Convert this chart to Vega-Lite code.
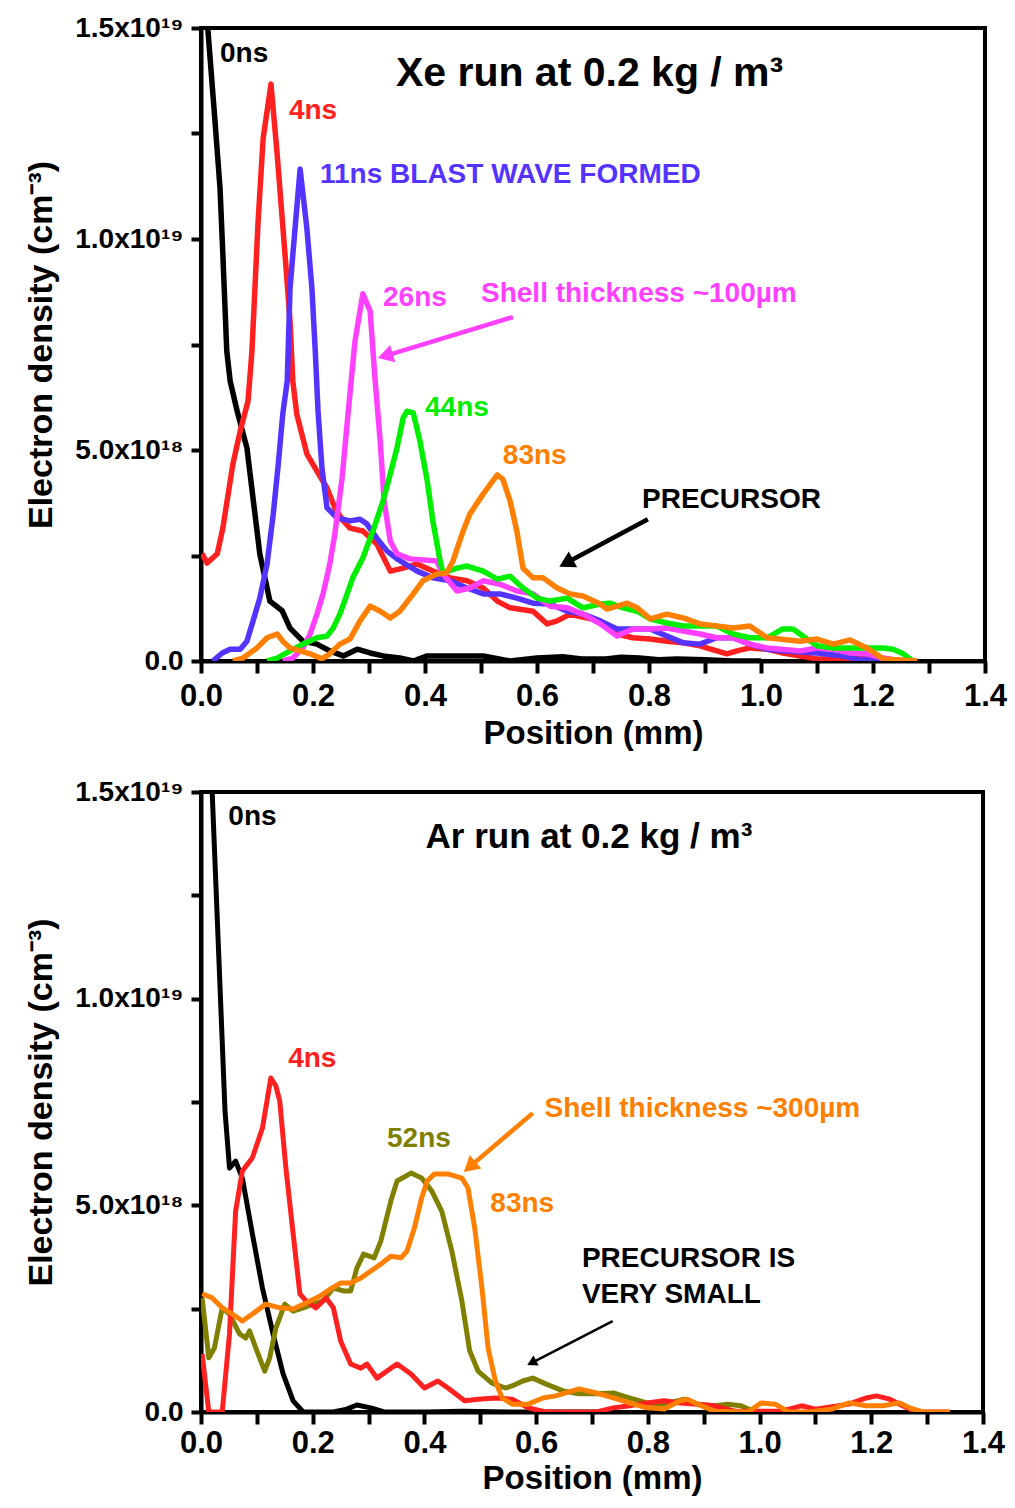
{
  "$schema": "https://vega.github.io/schema/vega-lite/v6.json",
  "background": "white",
  "padding": {"left": 22, "top": 12, "right": 4, "bottom": 0},
  "spacing": 24,
  "config": {
    "view": {"stroke": "black", "strokeWidth": 4},
    "font": "Liberation Sans",
    "axis": {
      "grid": false, "domainColor": "black", "domainWidth": 4, "tickColor": "black", "tickWidth": 4,
      "labelFont": "Liberation Sans", "labelFontWeight": "bold", "labelColor": "black", "labelOverlap": false, "labelFlush": false,
      "titleFont": "Liberation Sans", "titleFontWeight": "bold", "titleColor": "black"
    },
    "text": {"font": "Liberation Sans", "fontWeight": "bold", "align": "left", "baseline": "middle"}
  },
  "resolve": {"scale": {"x": "independent", "y": "independent", "color": "independent"}},
  "datasets": {
    "xe": [
      {"series":"0ns","x":0,"y":17.1},{"series":"0ns","x":0.0125,"y":14.93},{"series":"0ns","x":0.025,"y":12.79},{"series":"0ns","x":0.034,"y":11.2},{"series":"0ns","x":0.039,"y":9.64},{"series":"0ns","x":0.046,"y":7.35},{"series":"0ns","x":0.052,"y":6.64},{"series":"0ns","x":0.065,"y":5.9},{"series":"0ns","x":0.082,"y":5.05},{"series":"0ns","x":0.105,"y":2.54},{"series":"0ns","x":0.123,"y":1.42},{"series":"0ns","x":0.145,"y":1.19},{"series":"0ns","x":0.159,"y":0.78},{"series":"0ns","x":0.182,"y":0.47},{"series":"0ns","x":0.207,"y":0.40},{"series":"0ns","x":0.23,"y":0.24},{"series":"0ns","x":0.254,"y":0.12},{"series":"0ns","x":0.279,"y":0.28},{"series":"0ns","x":0.302,"y":0.19},{"series":"0ns","x":0.325,"y":0.12},{"series":"0ns","x":0.355,"y":0.07},{"series":"0ns","x":0.379,"y":0.0},{"series":"0ns","x":0.404,"y":0.12},{"series":"0ns","x":0.445,"y":0.12},{"series":"0ns","x":0.504,"y":0.12},{"series":"0ns","x":0.552,"y":0.0},{"series":"0ns","x":0.6,"y":0.07},{"series":"0ns","x":0.646,"y":0.10},{"series":"0ns","x":0.68,"y":0.05},{"series":"0ns","x":0.723,"y":0.05},{"series":"0ns","x":0.75,"y":0.09},{"series":"0ns","x":0.783,"y":0.07},{"series":"0ns","x":0.817,"y":0.03},{"series":"0ns","x":0.85,"y":0.05},{"series":"0ns","x":0.9,"y":0.03},{"series":"0ns","x":0.95,"y":0.0},{"series":"0ns","x":1.0,"y":0.0},
      {"series":"4ns","x":0.002,"y":2.54},{"series":"4ns","x":0.011,"y":2.32},{"series":"4ns","x":0.029,"y":2.54},{"series":"4ns","x":0.039,"y":3.15},{"series":"4ns","x":0.057,"y":4.67},{"series":"4ns","x":0.07,"y":5.45},{"series":"4ns","x":0.084,"y":6.16},{"series":"4ns","x":0.091,"y":7.35},{"series":"4ns","x":0.102,"y":10.43},{"series":"4ns","x":0.111,"y":12.39},{"series":"4ns","x":0.125,"y":13.67},{"series":"4ns","x":0.136,"y":12.01},{"series":"4ns","x":0.15,"y":9.64},{"series":"4ns","x":0.159,"y":8.06},{"series":"4ns","x":0.164,"y":6.63},{"series":"4ns","x":0.171,"y":5.85},{"series":"4ns","x":0.189,"y":4.91},{"series":"4ns","x":0.207,"y":4.5},{"series":"4ns","x":0.225,"y":4.1},{"series":"4ns","x":0.239,"y":3.63},{"series":"4ns","x":0.254,"y":3.32},{"series":"4ns","x":0.266,"y":3.15},{"series":"4ns","x":0.289,"y":3.08},{"series":"4ns","x":0.314,"y":2.77},{"series":"4ns","x":0.338,"y":2.13},{"series":"4ns","x":0.361,"y":2.2},{"series":"4ns","x":0.386,"y":2.3},{"series":"4ns","x":0.414,"y":2.13},{"series":"4ns","x":0.445,"y":1.97},{"series":"4ns","x":0.475,"y":1.9},{"series":"4ns","x":0.504,"y":1.73},{"series":"4ns","x":0.529,"y":1.42},{"series":"4ns","x":0.552,"y":1.26},{"series":"4ns","x":0.593,"y":1.18},{"series":"4ns","x":0.618,"y":0.88},{"series":"4ns","x":0.636,"y":0.95},{"series":"4ns","x":0.659,"y":1.11},{"series":"4ns","x":0.671,"y":1.07},{"series":"4ns","x":0.713,"y":0.95},{"series":"4ns","x":0.743,"y":0.64},{"series":"4ns","x":0.771,"y":0.55},{"series":"4ns","x":0.802,"y":0.52},{"series":"4ns","x":0.832,"y":0.47},{"series":"4ns","x":0.861,"y":0.43},{"series":"4ns","x":0.891,"y":0.36},{"series":"4ns","x":0.921,"y":0.24},{"series":"4ns","x":0.939,"y":0.17},{"series":"4ns","x":0.957,"y":0.24},{"series":"4ns","x":0.98,"y":0.31},{"series":"4ns","x":1.011,"y":0.28},{"series":"4ns","x":1.039,"y":0.19},{"series":"4ns","x":1.07,"y":0.12},{"series":"4ns","x":1.1,"y":0.05},{"series":"4ns","x":1.159,"y":0.05},{"series":"4ns","x":1.189,"y":0.12},{"series":"4ns","x":1.218,"y":0.05},{"series":"4ns","x":1.248,"y":0.02},
      {"series":"11ns","x":0.021,"y":0},{"series":"11ns","x":0.038,"y":0.19},{"series":"11ns","x":0.052,"y":0.28},{"series":"11ns","x":0.07,"y":0.28},{"series":"11ns","x":0.082,"y":0.47},{"series":"11ns","x":0.093,"y":0.95},{"series":"11ns","x":0.105,"y":1.49},{"series":"11ns","x":0.118,"y":2.3},{"series":"11ns","x":0.129,"y":3.48},{"series":"11ns","x":0.138,"y":4.67},{"series":"11ns","x":0.146,"y":5.85},{"series":"11ns","x":0.154,"y":6.64},{"series":"11ns","x":0.159,"y":8.84},{"series":"11ns","x":0.168,"y":10.26},{"series":"11ns","x":0.177,"y":11.66},{"series":"11ns","x":0.189,"y":10.26},{"series":"11ns","x":0.198,"y":8.84},{"series":"11ns","x":0.204,"y":7.35},{"series":"11ns","x":0.209,"y":5.92},{"series":"11ns","x":0.216,"y":4.57},{"series":"11ns","x":0.225,"y":3.63},{"series":"11ns","x":0.243,"y":3.39},{"series":"11ns","x":0.266,"y":3.32},{"series":"11ns","x":0.284,"y":3.36},{"series":"11ns","x":0.296,"y":3.25},{"series":"11ns","x":0.314,"y":2.91},{"series":"11ns","x":0.332,"y":2.61},{"series":"11ns","x":0.35,"y":2.42},{"series":"11ns","x":0.386,"y":2.13},{"series":"11ns","x":0.414,"y":1.97},{"series":"11ns","x":0.445,"y":1.9},{"series":"11ns","x":0.475,"y":1.73},{"series":"11ns","x":0.504,"y":1.59},{"series":"11ns","x":0.534,"y":1.59},{"series":"11ns","x":0.564,"y":1.49},{"series":"11ns","x":0.593,"y":1.37},{"series":"11ns","x":0.623,"y":1.35},{"series":"11ns","x":0.654,"y":1.18},{"series":"11ns","x":0.682,"y":1.11},{"series":"11ns","x":0.713,"y":0.95},{"series":"11ns","x":0.743,"y":0.76},{"series":"11ns","x":0.802,"y":0.76},{"series":"11ns","x":0.832,"y":0.59},{"series":"11ns","x":0.861,"y":0.43},{"series":"11ns","x":0.891,"y":0.4},{"series":"11ns","x":0.921,"y":0.55},{"series":"11ns","x":0.95,"y":0.55},{"series":"11ns","x":0.98,"y":0.4},{"series":"11ns","x":1.011,"y":0.28},{"series":"11ns","x":1.039,"y":0.24},{"series":"11ns","x":1.1,"y":0.19},{"series":"11ns","x":1.146,"y":0.12},{"series":"11ns","x":1.171,"y":0.05},{"series":"11ns","x":1.248,"y":0},
      {"series":"26ns","x":0.146,"y":0},{"series":"26ns","x":0.164,"y":0.07},{"series":"26ns","x":0.182,"y":0.31},{"series":"26ns","x":0.195,"y":0.64},{"series":"26ns","x":0.207,"y":1.11},{"series":"26ns","x":0.218,"y":1.59},{"series":"26ns","x":0.23,"y":2.3},{"series":"26ns","x":0.239,"y":3.01},{"series":"26ns","x":0.252,"y":4.34},{"series":"26ns","x":0.263,"y":5.92},{"series":"26ns","x":0.275,"y":7.58},{"series":"26ns","x":0.289,"y":8.7},{"series":"26ns","x":0.302,"y":8.29},{"series":"26ns","x":0.311,"y":6.64},{"series":"26ns","x":0.32,"y":5.21},{"series":"26ns","x":0.327,"y":3.79},{"series":"26ns","x":0.338,"y":2.84},{"series":"26ns","x":0.35,"y":2.54},{"series":"26ns","x":0.373,"y":2.42},{"series":"26ns","x":0.421,"y":2.37},{"series":"26ns","x":0.432,"y":2.06},{"series":"26ns","x":0.457,"y":1.66},{"series":"26ns","x":0.48,"y":1.73},{"series":"26ns","x":0.504,"y":1.9},{"series":"26ns","x":0.534,"y":1.82},{"series":"26ns","x":0.564,"y":1.66},{"series":"26ns","x":0.593,"y":1.59},{"series":"26ns","x":0.623,"y":1.3},{"series":"26ns","x":0.654,"y":1.26},{"series":"26ns","x":0.682,"y":1.11},{"series":"26ns","x":0.713,"y":0.88},{"series":"26ns","x":0.743,"y":0.59},{"series":"26ns","x":0.771,"y":0.76},{"series":"26ns","x":0.802,"y":0.76},{"series":"26ns","x":0.832,"y":0.78},{"series":"26ns","x":0.861,"y":0.71},{"series":"26ns","x":0.891,"y":0.64},{"series":"26ns","x":0.921,"y":0.55},{"series":"26ns","x":0.95,"y":0.55},{"series":"26ns","x":0.98,"y":0.4},{"series":"26ns","x":1.011,"y":0.31},{"series":"26ns","x":1.07,"y":0.24},{"series":"26ns","x":1.1,"y":0.31},{"series":"26ns","x":1.129,"y":0.28},{"series":"26ns","x":1.159,"y":0.19},{"series":"26ns","x":1.189,"y":0.17},{"series":"26ns","x":1.218,"y":0.07},{"series":"26ns","x":1.248,"y":0},
      {"series":"44ns","x":0.118,"y":0},{"series":"44ns","x":0.136,"y":0.07},{"series":"44ns","x":0.159,"y":0.24},{"series":"44ns","x":0.182,"y":0.4},{"series":"44ns","x":0.207,"y":0.55},{"series":"44ns","x":0.225,"y":0.59},{"series":"44ns","x":0.236,"y":0.78},{"series":"44ns","x":0.248,"y":1.11},{"series":"44ns","x":0.261,"y":1.59},{"series":"44ns","x":0.271,"y":1.97},{"series":"44ns","x":0.289,"y":2.44},{"series":"44ns","x":0.307,"y":3.08},{"series":"44ns","x":0.325,"y":3.79},{"series":"44ns","x":0.338,"y":4.43},{"series":"44ns","x":0.35,"y":5.05},{"series":"44ns","x":0.361,"y":5.76},{"series":"44ns","x":0.368,"y":5.92},{"series":"44ns","x":0.379,"y":5.88},{"series":"44ns","x":0.391,"y":5.21},{"series":"44ns","x":0.404,"y":4.27},{"series":"44ns","x":0.414,"y":3.32},{"series":"44ns","x":0.427,"y":2.37},{"series":"44ns","x":0.432,"y":2.09},{"series":"44ns","x":0.457,"y":2.2},{"series":"44ns","x":0.475,"y":2.25},{"series":"44ns","x":0.504,"y":2.13},{"series":"44ns","x":0.529,"y":1.94},{"series":"44ns","x":0.552,"y":2.01},{"series":"44ns","x":0.575,"y":1.73},{"series":"44ns","x":0.6,"y":1.49},{"series":"44ns","x":0.623,"y":1.42},{"series":"44ns","x":0.654,"y":1.49},{"series":"44ns","x":0.682,"y":1.26},{"series":"44ns","x":0.713,"y":1.35},{"series":"44ns","x":0.73,"y":1.37},{"series":"44ns","x":0.754,"y":1.26},{"series":"44ns","x":0.779,"y":1.18},{"series":"44ns","x":0.802,"y":1.0},{"series":"44ns","x":0.832,"y":0.9},{"series":"44ns","x":0.861,"y":0.83},{"series":"44ns","x":0.921,"y":0.83},{"series":"44ns","x":0.95,"y":0.64},{"series":"44ns","x":0.98,"y":0.55},{"series":"44ns","x":1.011,"y":0.55},{"series":"44ns","x":1.039,"y":0.76},{"series":"44ns","x":1.057,"y":0.76},{"series":"44ns","x":1.082,"y":0.52},{"series":"44ns","x":1.1,"y":0.36},{"series":"44ns","x":1.129,"y":0.31},{"series":"44ns","x":1.218,"y":0.31},{"series":"44ns","x":1.236,"y":0.28},{"series":"44ns","x":1.254,"y":0.17},{"series":"44ns","x":1.271,"y":0},
      {"series":"83ns","x":0.057,"y":0},{"series":"83ns","x":0.075,"y":0.07},{"series":"83ns","x":0.1,"y":0.31},{"series":"83ns","x":0.118,"y":0.55},{"series":"83ns","x":0.136,"y":0.64},{"series":"83ns","x":0.146,"y":0.47},{"series":"83ns","x":0.159,"y":0.31},{"series":"83ns","x":0.177,"y":0.24},{"series":"83ns","x":0.195,"y":0.17},{"series":"83ns","x":0.216,"y":0.05},{"series":"83ns","x":0.23,"y":0.17},{"series":"83ns","x":0.248,"y":0.4},{"series":"83ns","x":0.266,"y":0.52},{"series":"83ns","x":0.284,"y":0.95},{"series":"83ns","x":0.302,"y":1.3},{"series":"83ns","x":0.32,"y":1.18},{"series":"83ns","x":0.338,"y":1.02},{"series":"83ns","x":0.355,"y":1.18},{"series":"83ns","x":0.379,"y":1.59},{"series":"83ns","x":0.396,"y":1.9},{"series":"83ns","x":0.421,"y":2.06},{"series":"83ns","x":0.439,"y":2.09},{"series":"83ns","x":0.45,"y":2.37},{"series":"83ns","x":0.468,"y":3.08},{"series":"83ns","x":0.48,"y":3.48},{"series":"83ns","x":0.504,"y":3.96},{"series":"83ns","x":0.529,"y":4.41},{"series":"83ns","x":0.539,"y":4.31},{"series":"83ns","x":0.552,"y":3.79},{"series":"83ns","x":0.564,"y":3.08},{"series":"83ns","x":0.575,"y":2.2},{"series":"83ns","x":0.593,"y":1.97},{"series":"83ns","x":0.611,"y":1.97},{"series":"83ns","x":0.636,"y":1.73},{"series":"83ns","x":0.659,"y":1.59},{"series":"83ns","x":0.682,"y":1.54},{"series":"83ns","x":0.713,"y":1.35},{"series":"83ns","x":0.725,"y":1.23},{"series":"83ns","x":0.743,"y":1.3},{"series":"83ns","x":0.761,"y":1.37},{"series":"83ns","x":0.779,"y":1.26},{"series":"83ns","x":0.802,"y":1.0},{"series":"83ns","x":0.832,"y":1.11},{"series":"83ns","x":0.861,"y":1.02},{"series":"83ns","x":0.891,"y":0.88},{"series":"83ns","x":0.95,"y":0.78},{"series":"83ns","x":0.98,"y":0.83},{"series":"83ns","x":1.011,"y":0.55},{"series":"83ns","x":1.07,"y":0.47},{"series":"83ns","x":1.1,"y":0.52},{"series":"83ns","x":1.129,"y":0.4},{"series":"83ns","x":1.159,"y":0.5},{"series":"83ns","x":1.189,"y":0.31},{"series":"83ns","x":1.218,"y":0.05},{"series":"83ns","x":1.279,"y":0}
    ],
    "ar": [
      {"series":"0ns","x":0,"y":21.5},{"series":"0ns","x":0.02,"y":15.0},{"series":"0ns","x":0.043,"y":7.28},{"series":"0ns","x":0.051,"y":5.9},{"series":"0ns","x":0.062,"y":6.07},{"series":"0ns","x":0.074,"y":5.66},{"series":"0ns","x":0.092,"y":4.31},{"series":"0ns","x":0.11,"y":3.0},{"series":"0ns","x":0.129,"y":1.89},{"series":"0ns","x":0.147,"y":0.92},{"series":"0ns","x":0.165,"y":0.27},{"series":"0ns","x":0.183,"y":0},{"series":"0ns","x":0.237,"y":0},{"series":"0ns","x":0.261,"y":0.07},{"series":"0ns","x":0.279,"y":0.17},{"series":"0ns","x":0.304,"y":0.1},{"series":"0ns","x":0.328,"y":0},{"series":"0ns","x":0.405,"y":0},{"series":"0ns","x":0.467,"y":0.02},{"series":"0ns","x":0.563,"y":0},{"series":"0ns","x":0.708,"y":0},
      {"series":"52ns","x":0.002,"y":2.76},{"series":"52ns","x":0.014,"y":1.31},{"series":"52ns","x":0.024,"y":1.55},{"series":"52ns","x":0.038,"y":2.52},{"series":"52ns","x":0.051,"y":2.37},{"series":"52ns","x":0.069,"y":1.89},{"series":"52ns","x":0.08,"y":1.79},{"series":"52ns","x":0.087,"y":1.96},{"series":"52ns","x":0.098,"y":1.55},{"series":"52ns","x":0.114,"y":0.99},{"series":"52ns","x":0.123,"y":1.31},{"series":"52ns","x":0.134,"y":2.03},{"series":"52ns","x":0.15,"y":2.61},{"series":"52ns","x":0.165,"y":2.44},{"series":"52ns","x":0.183,"y":2.52},{"series":"52ns","x":0.201,"y":2.61},{"series":"52ns","x":0.219,"y":2.69},{"series":"52ns","x":0.237,"y":3.0},{"series":"52ns","x":0.255,"y":2.93},{"series":"52ns","x":0.268,"y":2.93},{"series":"52ns","x":0.279,"y":3.48},{"series":"52ns","x":0.291,"y":3.82},{"series":"52ns","x":0.31,"y":3.73},{"series":"52ns","x":0.322,"y":4.14},{"series":"52ns","x":0.34,"y":5.11},{"series":"52ns","x":0.351,"y":5.59},{"series":"52ns","x":0.376,"y":5.78},{"series":"52ns","x":0.395,"y":5.66},{"series":"52ns","x":0.413,"y":5.35},{"series":"52ns","x":0.431,"y":4.86},{"series":"52ns","x":0.449,"y":3.9},{"series":"52ns","x":0.467,"y":2.69},{"series":"52ns","x":0.481,"y":1.48},{"series":"52ns","x":0.496,"y":0.99},{"series":"52ns","x":0.521,"y":0.7},{"series":"52ns","x":0.545,"y":0.58},{"series":"52ns","x":0.557,"y":0.63},{"series":"52ns","x":0.576,"y":0.75},{"series":"52ns","x":0.594,"y":0.82},{"series":"52ns","x":0.617,"y":0.68},{"series":"52ns","x":0.648,"y":0.51},{"series":"52ns","x":0.677,"y":0.44},{"series":"52ns","x":0.708,"y":0.44},{"series":"52ns","x":0.738,"y":0.46},{"series":"52ns","x":0.767,"y":0.34},{"series":"52ns","x":0.798,"y":0.22},{"series":"52ns","x":0.829,"y":0.19},{"series":"52ns","x":0.865,"y":0.31},{"series":"52ns","x":0.889,"y":0.19},{"series":"52ns","x":0.919,"y":0.15},{"series":"52ns","x":0.943,"y":0.19},{"series":"52ns","x":0.967,"y":0.15},{"series":"52ns","x":0.992,"y":0},
      {"series":"4ns","x":0.002,"y":1.4},{"series":"4ns","x":0.014,"y":0},{"series":"4ns","x":0.038,"y":0},{"series":"4ns","x":0.051,"y":1.89},{"series":"4ns","x":0.062,"y":4.86},{"series":"4ns","x":0.074,"y":5.83},{"series":"4ns","x":0.092,"y":6.15},{"series":"4ns","x":0.11,"y":6.87},{"series":"4ns","x":0.125,"y":8.08},{"series":"4ns","x":0.134,"y":7.89},{"series":"4ns","x":0.141,"y":7.52},{"series":"4ns","x":0.152,"y":5.9},{"series":"4ns","x":0.165,"y":4.31},{"series":"4ns","x":0.177,"y":2.86},{"series":"4ns","x":0.188,"y":2.69},{"series":"4ns","x":0.206,"y":2.52},{"series":"4ns","x":0.224,"y":2.76},{"series":"4ns","x":0.237,"y":2.52},{"series":"4ns","x":0.25,"y":1.72},{"series":"4ns","x":0.268,"y":1.16},{"series":"4ns","x":0.286,"y":1.06},{"series":"4ns","x":0.297,"y":1.16},{"series":"4ns","x":0.315,"y":0.82},{"series":"4ns","x":0.34,"y":1.06},{"series":"4ns","x":0.351,"y":1.16},{"series":"4ns","x":0.376,"y":0.92},{"series":"4ns","x":0.4,"y":0.58},{"series":"4ns","x":0.424,"y":0.75},{"series":"4ns","x":0.442,"y":0.58},{"series":"4ns","x":0.472,"y":0.27},{"series":"4ns","x":0.496,"y":0.31},{"series":"4ns","x":0.527,"y":0.34},{"series":"4ns","x":0.557,"y":0.31},{"series":"4ns","x":0.586,"y":0.1},{"series":"4ns","x":0.617,"y":0},{"series":"4ns","x":0.708,"y":0},{"series":"4ns","x":0.738,"y":0.1},{"series":"4ns","x":0.767,"y":0.15},{"series":"4ns","x":0.798,"y":0.22},{"series":"4ns","x":0.829,"y":0.27},{"series":"4ns","x":0.858,"y":0.22},{"series":"4ns","x":0.889,"y":0.19},{"series":"4ns","x":0.919,"y":0.15},{"series":"4ns","x":0.956,"y":0.02},{"series":"4ns","x":1.039,"y":0.02},{"series":"4ns","x":1.075,"y":0.15},{"series":"4ns","x":1.1,"y":0.07},{"series":"4ns","x":1.16,"y":0.19},{"series":"4ns","x":1.191,"y":0.34},{"series":"4ns","x":1.209,"y":0.39},{"series":"4ns","x":1.233,"y":0.31},{"series":"4ns","x":1.256,"y":0.15},{"series":"4ns","x":1.281,"y":0},{"series":"4ns","x":1.341,"y":0},
      {"series":"83ns","x":0.002,"y":2.86},{"series":"83ns","x":0.02,"y":2.76},{"series":"83ns","x":0.038,"y":2.52},{"series":"83ns","x":0.056,"y":2.37},{"series":"83ns","x":0.074,"y":2.2},{"series":"83ns","x":0.092,"y":2.37},{"series":"83ns","x":0.116,"y":2.61},{"series":"83ns","x":0.141,"y":2.52},{"series":"83ns","x":0.165,"y":2.49},{"series":"83ns","x":0.188,"y":2.64},{"series":"83ns","x":0.214,"y":2.81},{"series":"83ns","x":0.232,"y":2.98},{"series":"83ns","x":0.25,"y":3.12},{"series":"83ns","x":0.268,"y":3.12},{"series":"83ns","x":0.286,"y":3.24},{"series":"83ns","x":0.304,"y":3.41},{"series":"83ns","x":0.322,"y":3.58},{"series":"83ns","x":0.34,"y":3.77},{"series":"83ns","x":0.358,"y":3.73},{"series":"83ns","x":0.369,"y":3.9},{"series":"83ns","x":0.382,"y":4.45},{"series":"83ns","x":0.395,"y":5.18},{"series":"83ns","x":0.405,"y":5.59},{"series":"83ns","x":0.418,"y":5.76},{"series":"83ns","x":0.442,"y":5.76},{"series":"83ns","x":0.467,"y":5.66},{"series":"83ns","x":0.478,"y":5.42},{"series":"83ns","x":0.49,"y":4.45},{"series":"83ns","x":0.503,"y":3.0},{"series":"83ns","x":0.514,"y":1.55},{"series":"83ns","x":0.527,"y":0.75},{"series":"83ns","x":0.539,"y":0.34},{"series":"83ns","x":0.557,"y":0.19},{"series":"83ns","x":0.586,"y":0.19},{"series":"83ns","x":0.612,"y":0.34},{"series":"83ns","x":0.635,"y":0.39},{"series":"83ns","x":0.677,"y":0.56},{"series":"83ns","x":0.708,"y":0.46},{"series":"83ns","x":0.738,"y":0.34},{"series":"83ns","x":0.767,"y":0.22},{"series":"83ns","x":0.798,"y":0.1},{"series":"83ns","x":0.829,"y":0.07},{"series":"83ns","x":0.858,"y":0.27},{"series":"83ns","x":0.871,"y":0.31},{"series":"83ns","x":0.889,"y":0.19},{"series":"83ns","x":0.919,"y":0.02},{"series":"83ns","x":0.979,"y":0},{"series":"83ns","x":1.003,"y":0.22},{"series":"83ns","x":1.028,"y":0.19},{"series":"83ns","x":1.052,"y":0},{"series":"83ns","x":1.088,"y":0},{"series":"83ns","x":1.129,"y":0.07},{"series":"83ns","x":1.16,"y":0.22},{"series":"83ns","x":1.191,"y":0.15},{"series":"83ns","x":1.22,"y":0.15},{"series":"83ns","x":1.251,"y":0.22},{"series":"83ns","x":1.269,"y":0.1},{"series":"83ns","x":1.292,"y":0},{"series":"83ns","x":1.341,"y":0}
    ],
    "notes": [
      {"panel":"xe","label":"0ns","series":"0ns","x":0.034,"y":14.38},
      {"panel":"xe","label":"4ns","series":"4ns","x":0.157,"y":13.03},
      {"panel":"xe","label":"11ns BLAST WAVE FORMED","series":"11ns","x":0.2125,"y":11.52},
      {"panel":"xe","label":"26ns","series":"26ns","x":0.325,"y":8.6},
      {"panel":"xe","label":"Shell thickness ~100µm","series":"26ns","x":0.5,"y":8.7},
      {"panel":"xe","label":"44ns","series":"44ns","x":0.4,"y":6.0},
      {"panel":"xe","label":"83ns","series":"83ns","x":0.539,"y":4.86},
      {"panel":"xe","label":"PRECURSOR","series":"note","x":0.7875,"y":3.82},
      {"panel":"ar","label":"0ns","series":"0ns","x":0.049,"y":14.4},
      {"panel":"ar","label":"4ns","series":"4ns","x":0.156,"y":8.54},
      {"panel":"ar","label":"52ns","series":"52ns","x":0.333,"y":6.61},
      {"panel":"ar","label":"Shell thickness ~300µm","series":"83ns","x":0.615,"y":7.33},
      {"panel":"ar","label":"83ns","series":"83ns","x":0.518,"y":5.03},
      {"panel":"ar","label":"PRECURSOR IS","series":"note","x":0.682,"y":3.7},
      {"panel":"ar","label":"VERY SMALL","series":"note","x":0.682,"y":2.83}
    ],
    "titles": [
      {"panel":"xe","label":"Xe run at 0.2 kg / m³","x":0.348,"y":13.91},
      {"panel":"ar","label":"Ar run at 0.2 kg / m³","x":0.402,"y":13.91}
    ],
    "arrows": [
      {"id":"xe_shell","series":"26ns","x":0.557,"y":8.15,"hx":0.329,"hy":7.23},
      {"id":"xe_pre","series":"note","x":0.798,"y":3.36,"hx":0.652,"hy":2.32},
      {"id":"ar_shell","series":"83ns","x":0.594,"y":7.23,"hx":0.481,"hy":5.93},
      {"id":"ar_pre","series":"note","x":0.737,"y":2.2,"hx":0.592,"hy":1.19}
    ]
  },
  "vconcat": [
    {
      "width": 784, "height": 633,
      "encoding": {
        "x": {"field": "x", "type": "quantitative", "scale": {"domain": [0, 1.4], "nice": false},
          "axis": {"values": [0,0.1,0.2,0.3,0.4,0.5,0.6,0.7,0.8,0.9,1.0,1.1,1.2,1.3,1.4], "tickSize": 12, "labelPadding": 8, "labelFontSize": 31,
            "labelExpr": "abs(datum.value*5 - round(datum.value*5)) < 0.001 ? format(datum.value, '.1f') : ''",
            "title": "Position (mm)", "titleFontSize": 33, "titlePadding": 6,
            "encode": {"ticks": {"update": {"y2": {"signal": "abs(datum.value*5 - round(datum.value*5)) < 0.001 ? 12 : 6"}}}}}},
        "y": {"field": "y", "type": "quantitative", "scale": {"domain": [0, 15], "nice": false},
          "axis": {"values": [0,2.5,5,7.5,10,12.5,15], "tickSize": 10, "labelPadding": 8, "labelFontSize": 28,
            "labelExpr": "datum.value == 0 ? '0.0' : datum.value == 5 ? '5.0x10¹⁸' : datum.value == 10 ? '1.0x10¹⁹' : datum.value == 15 ? '1.5x10¹⁹' : ''",
            "title": "Electron density (cm⁻³)", "titleFontSize": 34, "titlePadding": 16,
            "encode": {"ticks": {"update": {"x2": {"signal": "datum.value % 5 == 0 ? -10 : -5"}}}}}},
        "color": {"field": "series", "type": "nominal", "legend": null,
          "scale": {"domain": ["0ns","4ns","11ns","26ns","44ns","83ns","52ns","note"], "range": ["#000000","#ff2020","#5533ff","#ff40ff","#00ee00","#ff8000","#808000","#000000"]}}
      },
      "layer": [
        {"data": {"name": "xe"}, "mark": {"type": "line", "strokeWidth": 5.5, "clip": true, "strokeJoin": "round"}},
        {"data": {"name": "notes"}, "transform": [{"filter": "datum.panel == 'xe'"}], "mark": {"type": "text", "fontSize": 28}, "encoding": {"text": {"field": "label"}}},
        {"data": {"name": "titles"}, "transform": [{"filter": "datum.panel == 'xe'"}], "mark": {"type": "text", "fontSize": 41, "color": "black"}, "encoding": {"text": {"field": "label"}, "color": {"value": "black"}}},
        {"data": {"name": "arrows"}, "transform": [{"filter": "datum.id == 'xe_shell'"}], "layer": [
          {"mark": {"type": "rule", "strokeWidth": 4.5}, "encoding": {"x2": {"field": "hx"}, "y2": {"field": "hy"}}},
          {"mark": {"type": "point", "shape": "triangle-up", "filled": true, "size": 320, "angle": 253.3, "opacity": 1}, "encoding": {"x": {"field": "hx", "type": "quantitative"}, "y": {"field": "hy", "type": "quantitative"}}}
        ]},
        {"data": {"name": "arrows"}, "transform": [{"filter": "datum.id == 'xe_pre'"}], "layer": [
          {"mark": {"type": "rule", "strokeWidth": 4.5}, "encoding": {"x2": {"field": "hx"}, "y2": {"field": "hy"}}},
          {"mark": {"type": "point", "shape": "triangle-up", "filled": true, "size": 320, "angle": 241.9, "opacity": 1}, "encoding": {"x": {"field": "hx", "type": "quantitative"}, "y": {"field": "hy", "type": "quantitative"}}}
        ]}
      ]
    },
    {
      "width": 782, "height": 620,
      "encoding": {
        "x": {"field": "x", "type": "quantitative", "scale": {"domain": [0, 1.4], "nice": false},
          "axis": {"values": [0,0.1,0.2,0.3,0.4,0.5,0.6,0.7,0.8,0.9,1.0,1.1,1.2,1.3,1.4], "tickSize": 12, "labelPadding": 4, "labelFontSize": 31,
            "labelExpr": "abs(datum.value*5 - round(datum.value*5)) < 0.001 ? format(datum.value, '.1f') : ''",
            "title": "Position (mm)", "titleFontSize": 33, "titlePadding": 4,
            "encode": {"ticks": {"update": {"y2": {"signal": "abs(datum.value*5 - round(datum.value*5)) < 0.001 ? 12 : 6"}}}}}},
        "y": {"field": "y", "type": "quantitative", "scale": {"domain": [0, 15], "nice": false},
          "axis": {"values": [0,2.5,5,7.5,10,12.5,15], "tickSize": 10, "labelPadding": 8, "labelFontSize": 28,
            "labelExpr": "datum.value == 0 ? '0.0' : datum.value == 5 ? '5.0x10¹⁸' : datum.value == 10 ? '1.0x10¹⁹' : datum.value == 15 ? '1.5x10¹⁹' : ''",
            "title": "Electron density (cm⁻³)", "titleFontSize": 34, "titlePadding": 16,
            "encode": {"ticks": {"update": {"x2": {"signal": "datum.value % 5 == 0 ? -10 : -5"}}}}}},
        "color": {"field": "series", "type": "nominal", "legend": null,
          "scale": {"domain": ["0ns","4ns","11ns","26ns","44ns","83ns","52ns","note"], "range": ["#000000","#ff2020","#5533ff","#ff40ff","#00ee00","#ff8000","#808000","#000000"]}}
      },
      "layer": [
        {"data": {"name": "ar"}, "mark": {"type": "line", "strokeWidth": 5, "clip": true, "strokeJoin": "round"}},
        {"data": {"name": "notes"}, "transform": [{"filter": "datum.panel == 'ar'"}], "mark": {"type": "text", "fontSize": 28}, "encoding": {"text": {"field": "label"}}},
        {"data": {"name": "titles"}, "transform": [{"filter": "datum.panel == 'ar'"}], "mark": {"type": "text", "fontSize": 35}, "encoding": {"text": {"field": "label"}, "color": {"value": "black"}}},
        {"data": {"name": "arrows"}, "transform": [{"filter": "datum.id == 'ar_shell'"}], "layer": [
          {"mark": {"type": "rule", "strokeWidth": 4.5}, "encoding": {"x2": {"field": "hx"}, "y2": {"field": "hy"}}},
          {"mark": {"type": "point", "shape": "triangle-up", "filled": true, "size": 320, "angle": 229.1, "opacity": 1}, "encoding": {"x": {"field": "hx", "type": "quantitative"}, "y": {"field": "hy", "type": "quantitative"}}}
        ]},
        {"data": {"name": "arrows"}, "transform": [{"filter": "datum.id == 'ar_pre'"}], "layer": [
          {"mark": {"type": "rule", "strokeWidth": 2.5}, "encoding": {"x2": {"field": "hx"}, "y2": {"field": "hy"}}},
          {"mark": {"type": "point", "shape": "triangle-up", "filled": true, "size": 130, "angle": 242.4, "opacity": 1}, "encoding": {"x": {"field": "hx", "type": "quantitative"}, "y": {"field": "hy", "type": "quantitative"}}}
        ]}
      ]
    }
  ]
}
